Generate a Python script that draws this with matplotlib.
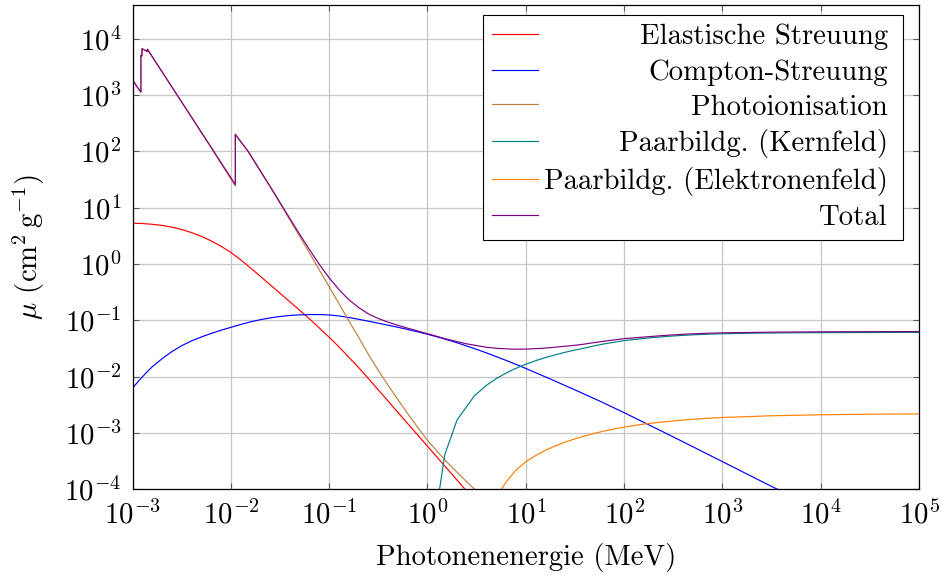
import matplotlib
matplotlib.use('Agg')
matplotlib.rcParams['font.family'] = 'cmr10'
matplotlib.rcParams['mathtext.fontset'] = 'cm'
matplotlib.rcParams['axes.unicode_minus'] = False
matplotlib.rcParams['axes.formatter.use_mathtext'] = True
matplotlib.rcParams['font.size'] = 20.7
import matplotlib.pyplot as plt
from matplotlib.offsetbox import HPacker, DrawingArea
from matplotlib.ticker import FixedLocator, FuncFormatter, NullLocator
import numpy as np

# Germanium: mass attenuation coefficients in cm^2/g against photon energy in MeV

# elastic (coherent) scattering
e_coh = [1.0e-3, 1.26e-3, 1.58e-3, 2.0e-3, 2.51e-3, 3.16e-3, 3.98e-3, 5.01e-3, 6.31e-3,
         7.94e-3, 0.01, 0.0126, 0.0158, 0.02, 0.0251, 0.0316, 0.0398, 0.0501, 0.0631,
         0.0794, 0.1, 0.126, 0.158, 0.2, 0.251, 0.316, 1.0, 3.16]
mu_coh = [5.30, 5.24, 5.08, 4.85, 4.53, 4.11, 3.62, 3.10, 2.58,
          2.07, 1.61, 1.19, 0.853, 0.604, 0.428, 0.303, 0.214, 0.151, 0.106,
          0.0731, 0.0500, 0.0337, 0.0222, 0.0144, 9.2e-3, 5.8e-3, 5.8e-4, 5.8e-5]

# Compton scattering
e_inc = [1.0e-3, 1.12e-3, 1.26e-3, 1.41e-3, 1.58e-3, 2.0e-3, 2.51e-3, 3.16e-3, 3.98e-3,
         5.01e-3, 6.31e-3, 7.94e-3, 0.01, 0.0126, 0.0158, 0.02, 0.0251, 0.0316, 0.0398,
         0.0501, 0.0631, 0.0794, 0.1, 0.126, 0.158, 0.2, 0.251, 0.316, 0.398, 0.501,
         0.631, 0.794, 1.0, 1.26, 1.58, 2.0, 2.51, 3.16, 3.98, 5.01, 6.31, 7.94, 10,
         17.8, 31.6, 56.2, 100, 316, 1e3, 3.16e3, 5.01e3]
mu_inc = [6.19e-3, 7.9e-3, 9.93e-3, 0.0122, 0.01486, 0.02084, 0.0278, 0.0354, 0.0431,
          0.0506, 0.0585, 0.0667, 0.0750, 0.0843, 0.0938, 0.1026, 0.1104, 0.1169, 0.1219,
          0.1250, 0.1265, 0.1265, 0.1245, 0.1194, 0.1122, 0.1042, 0.0964, 0.0889, 0.0818,
          0.0752, 0.0687, 0.0625, 0.0565, 0.0507, 0.0452, 0.0399, 0.0350, 0.0305, 0.0264,
          0.0226, 0.0194, 0.0165, 0.01396, 9.06e-3, 5.81e-3, 3.69e-3, 2.29e-3, 8.5e-4,
          3.09e-4, 1.12e-4, 7.6e-5]

# photoionisation (L and K edges doubled)
e_pho = [1e-3, 1.1e-3, 1.217e-3, 1.217e-3, 1.248e-3, 1.248e-3, 1.414e-3, 1.414e-3, 1.5e-3,
         2e-3, 3e-3, 4e-3, 5e-3, 6e-3, 8e-3, 1e-2, 1.1103e-2, 1.1103e-2, 1.5e-2, 2e-2,
         0.0251, 0.0316, 0.0398, 0.0501, 0.0631, 0.0794, 0.1, 0.126, 0.158, 0.2, 0.251,
         0.316, 0.398, 0.501, 0.631, 0.794, 1.0, 1.26, 1.58, 2.0, 2.51, 3.16, 3.98]
mu_pho = [1870, 1440, 1125, 5100, 4950, 6700, 5950, 6550, 5600,
          2580, 865, 398, 217, 133, 60, 32.5, 24.3, 200, 99, 44.3,
          23.4, 12.0, 6.10, 3.10, 1.567, 0.785, 0.394, 0.197, 0.0989, 0.0495, 0.0247,
          0.0129, 7.0e-3, 3.89e-3, 2.19e-3, 1.26e-3, 7.41e-4, 4.68e-4, 3.02e-4, 2.0e-4,
          1.35e-4, 9.2e-5, 6.4e-5]

# pair production in the nuclear field
e_pnuc = [1.25, 1.5, 2.0, 3.0, 4.0, 5.0, 6.0, 7.0, 8.0, 9.0, 10, 12, 14, 16, 18, 20, 25,
          30, 40, 50, 60, 80, 100, 150, 200, 300, 400, 500, 600, 800, 1e3, 2e3, 5e3,
          1e4, 1e5]
mu_pnuc = [5e-5, 4.1e-4, 1.7e-3, 4.57e-3, 7.05e-3, 9.2e-3, 0.01104, 0.01268, 0.01409,
           0.01538, 0.01656, 0.01862, 0.02037, 0.02188, 0.02321, 0.02443, 0.02698, 0.02904,
           0.03228, 0.0353, 0.0376, 0.0409, 0.0437, 0.0471, 0.0496, 0.0524, 0.0541, 0.0552,
           0.0560, 0.0570, 0.0577, 0.0590, 0.0600, 0.0604, 0.0610]

# pair production in the electron field
e_pel = [3.98, 5.01, 6.31, 7.94, 10, 12.6, 15.8, 20, 25.1, 31.6, 39.8, 50.1, 63.1, 79.4,
         100, 126, 158, 251, 398, 631, 1e3, 3.16e3, 1e4, 3.16e4, 1e5]
mu_pel = [3.16e-5, 7.3e-5, 1.34e-4, 2.18e-4, 3.08e-4, 3.96e-4, 4.90e-4, 5.87e-4, 6.85e-4,
          7.83e-4, 8.83e-4, 9.84e-4, 1.081e-3, 1.178e-3, 1.268e-3, 1.352e-3, 1.432e-3,
          1.570e-3, 1.690e-3, 1.795e-3, 1.879e-3, 2.014e-3, 2.099e-3, 2.148e-3, 2.173e-3]

# total attenuation
e_tot = [1e-3, 1.1e-3, 1.217e-3, 1.217e-3, 1.248e-3, 1.248e-3, 1.414e-3, 1.414e-3, 1.5e-3,
         2e-3, 3e-3, 4e-3, 5e-3, 6e-3, 8e-3, 1e-2, 1.1103e-2, 1.1103e-2, 1.5e-2, 2e-2,
         0.0251, 0.0316, 0.0398, 0.0501, 0.0631, 0.0794, 0.1, 0.126, 0.158, 0.2, 0.251,
         0.316, 0.398, 0.501, 0.631, 0.794, 1.0, 1.26, 1.58, 2.0, 2.51, 3.16, 3.98, 5.01,
         6.31, 7.94, 10, 12.6, 15.8, 20, 25.1, 31.6, 39.8, 50.1, 63.1, 79.4, 100, 158,
         251, 398, 631, 1e3, 3.16e3, 1e4, 3.16e4, 1e5]
mu_tot = [1875, 1445, 1130, 5105, 4955, 6705, 5955, 6555, 5605,
          2585, 869, 402, 220, 136, 62.1, 34.2, 25.8, 201.5, 100, 45.0,
          23.9, 12.42, 6.44, 3.38, 1.80, 0.985, 0.569, 0.350, 0.233, 0.168, 0.130,
          0.1076, 0.0925, 0.0814, 0.0724, 0.0647, 0.0578, 0.0516, 0.0463, 0.0419, 0.0382,
          0.0356, 0.0332, 0.0319, 0.0311, 0.0307, 0.0308, 0.0314, 0.0321, 0.0333, 0.0346,
          0.0360, 0.0379, 0.0403, 0.0426, 0.0448, 0.0473, 0.0504, 0.0537, 0.0565, 0.0585,
          0.0599, 0.0616, 0.0625, 0.0629, 0.0632]

labels = ['Elastische Streuung', 'Compton-Streuung', 'Photoionisation',
          'Paarbildg. (Kernfeld)', 'Paarbildg. (Elektronenfeld)', 'Total']
colors = ['#ff0000', '#0000ff', '#bf8040', '#008080', '#ff8000', '#800080']

x_ticks = [10.0 ** k for k in range(-3, 6)]
y_ticks = [10.0 ** k for k in range(-4, 5)]


def decade(v, pos):
    return r'$10^{%d}$' % int(round(np.log10(v)))


def draw():
    fig = plt.figure(figsize=(9.46, 5.76), dpi=100)
    ax = fig.add_axes([0.1401, 0.1507, 0.8314, 0.8405])

    series = [(e_coh, mu_coh), (e_inc, mu_inc), (e_pho, mu_pho),
              (e_pnuc, mu_pnuc), (e_pel, mu_pel), (e_tot, mu_tot)]
    for (e, mu), lab, c in zip(series, labels, colors):
        ax.plot(e, mu, color=c, lw=0.85, label=lab)

    ax.set_xscale('log')
    ax.set_yscale('log')
    ax.set_xlim(1e-3, 1e5)
    ax.set_ylim(1e-4, 10 ** 4.6)
    ax.xaxis.set_major_locator(FixedLocator(x_ticks))
    ax.yaxis.set_major_locator(FixedLocator(y_ticks))
    ax.xaxis.set_minor_locator(NullLocator())
    ax.yaxis.set_minor_locator(NullLocator())
    ax.xaxis.set_major_formatter(FuncFormatter(decade))
    ax.yaxis.set_major_formatter(FuncFormatter(decade))
    ax.tick_params(which='major', direction='in', length=4, width=0.8, color='0.35',
                   top=True, right=True, pad=8)
    ax.grid(True, which='major', color='0.78', lw=0.9)
    ax.set_axisbelow(True)
    for s in ax.spines.values():
        s.set_linewidth(0.9)

    ax.set_xlabel('Photonenenergie (MeV)', labelpad=10)
    ax.set_ylabel(r'$\mu$ (cm$^2\,$g$^{-1}$)', labelpad=13)

    leg = ax.legend(loc='upper right', bbox_to_anchor=(0.98, 0.98), borderaxespad=0,
                    fancybox=False, framealpha=1, edgecolor='black', handlelength=1.6,
                    handletextpad=0.2, labelspacing=0.3, borderpad=0.32)
    leg.get_frame().set_linewidth(0.8)
    for ln in leg.get_lines():
        ln.set_linewidth(0.85)

    # right-align the legend texts while keeping the handles on the left,
    # with a little extra room after the texts
    fig.canvas.draw()
    r = fig.canvas.get_renderer()
    column = leg._legend_box.get_children()[1].get_children()[0]
    items = column.get_children()
    widths = [it.get_children()[1].get_bbox(r).width for it in items]
    wmax = max(widths)
    for it, w in zip(items, widths):
        handle, text = it.get_children()
        it._children = [handle, HPacker(pad=0, sep=0, align='baseline',
                                        children=[text, DrawingArea(4.5, 0)])]
        it.sep += (wmax - w) / r.points_to_pixels(1.0)

    fig.savefig('out.png', dpi=100)


if __name__ == '__main__':
    draw()
